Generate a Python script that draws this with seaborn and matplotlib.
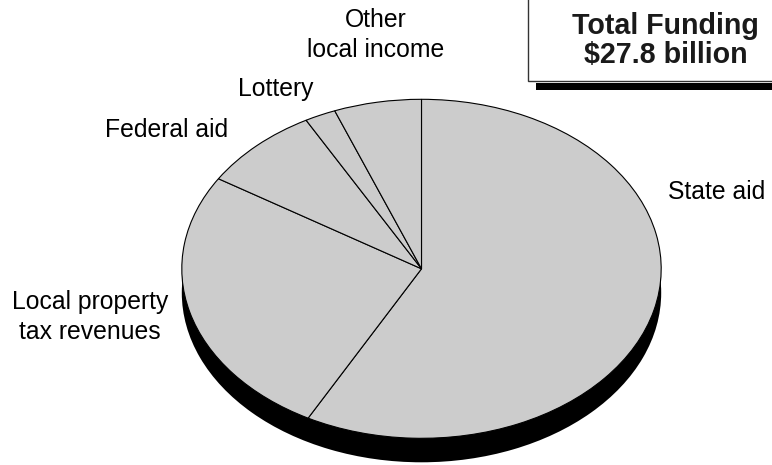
import matplotlib
matplotlib.use("Agg")
import matplotlib.pyplot as plt
from matplotlib.patches import Rectangle
import seaborn as sns

# Funding sources (percent of total), clockwise from 12 o'clock
sources = ["State aid", "Local property\ntax revenues", "Federal aid",
           "Lottery", "Other\nlocal income"]
shares = [57.9, 26.1, 8.1, 2.1, 5.9]
total_label = ["Total Funding", "$27.8 billion"]

sns.set_theme(style="white")
plt.rcParams["font.family"] = ["Liberation Sans", "DejaVu Sans"]

W, H = 772, 465
fig = plt.figure(figsize=(W / 100, H / 100), dpi=100)
fig.patch.set_facecolor("white")

# Pie geometry in pixels (top face of the tilted disc)
cx, cy, rx, ry = 421.5, 268.8, 239.7, 169.5
depth = 24.0

ax = fig.add_axes([0, 0, 1, 1])
face = "#cccccc"

# dark extrusion underneath the disc
ax.pie([1], radius=1.0, center=(0, -depth / ry), colors=["black"],
       wedgeprops=dict(linewidth=0), frame=False)
ax.add_patch(Rectangle((-1.0, -depth / ry), 2.0, depth / ry,
                       facecolor="black", edgecolor="none", zorder=0.5))
# top face with slices
ax.pie(shares, radius=1.0, center=(0, 0), startangle=90, counterclock=False,
       colors=[face] * len(shares),
       wedgeprops=dict(edgecolor="black", linewidth=0.8), frame=False)

ax.set_aspect("auto")
ax.set_xlim(-cx / rx, (W - cx) / rx)
ax.set_ylim(-(H - cy) / ry, cy / ry)
ax.axis("off")


def fx(x):
    return x / W


def fy(y):
    return 1 - y / H


lab = dict(fontsize=17.8, color="black")
fig.text(fx(668), fy(199), "State aid", ha="left", va="baseline", **lab)
fig.text(fx(90), fy(309), "Local property", ha="center", va="baseline", **lab)
fig.text(fx(90), fy(339), "tax revenues", ha="center", va="baseline", **lab)
fig.text(fx(105), fy(137), "Federal aid", ha="left", va="baseline", **lab)
fig.text(fx(238), fy(96), "Lottery", ha="left", va="baseline", **lab)
fig.text(fx(376), fy(27), "Other", ha="center", va="baseline", **lab)
fig.text(fx(376), fy(57), "local income", ha="center", va="baseline", **lab)

# total funding box with drop shadow
fig.patches.append(Rectangle((fx(536), fy(89.7)), 1.0, (89.7 - 83) / H,
                             transform=fig.transFigure, facecolor="black",
                             edgecolor="none", zorder=2))
fig.patches.append(Rectangle((fx(527.5), fy(80.7)), 1.0, 0.5,
                             transform=fig.transFigure, facecolor="white",
                             edgecolor="#333333", linewidth=1.0, zorder=3))
fig.text(fx(665.5), fy(34.3), total_label[0], ha="center", va="baseline",
         fontsize=20.6, fontweight="bold", color="#1a1a1a", zorder=4)
fig.text(fx(665.5), fy(63.3), total_label[1], ha="center", va="baseline",
         fontsize=20.6, fontweight="bold", color="#1a1a1a", zorder=4)

fig.savefig("out.png", dpi=100, facecolor="white")
